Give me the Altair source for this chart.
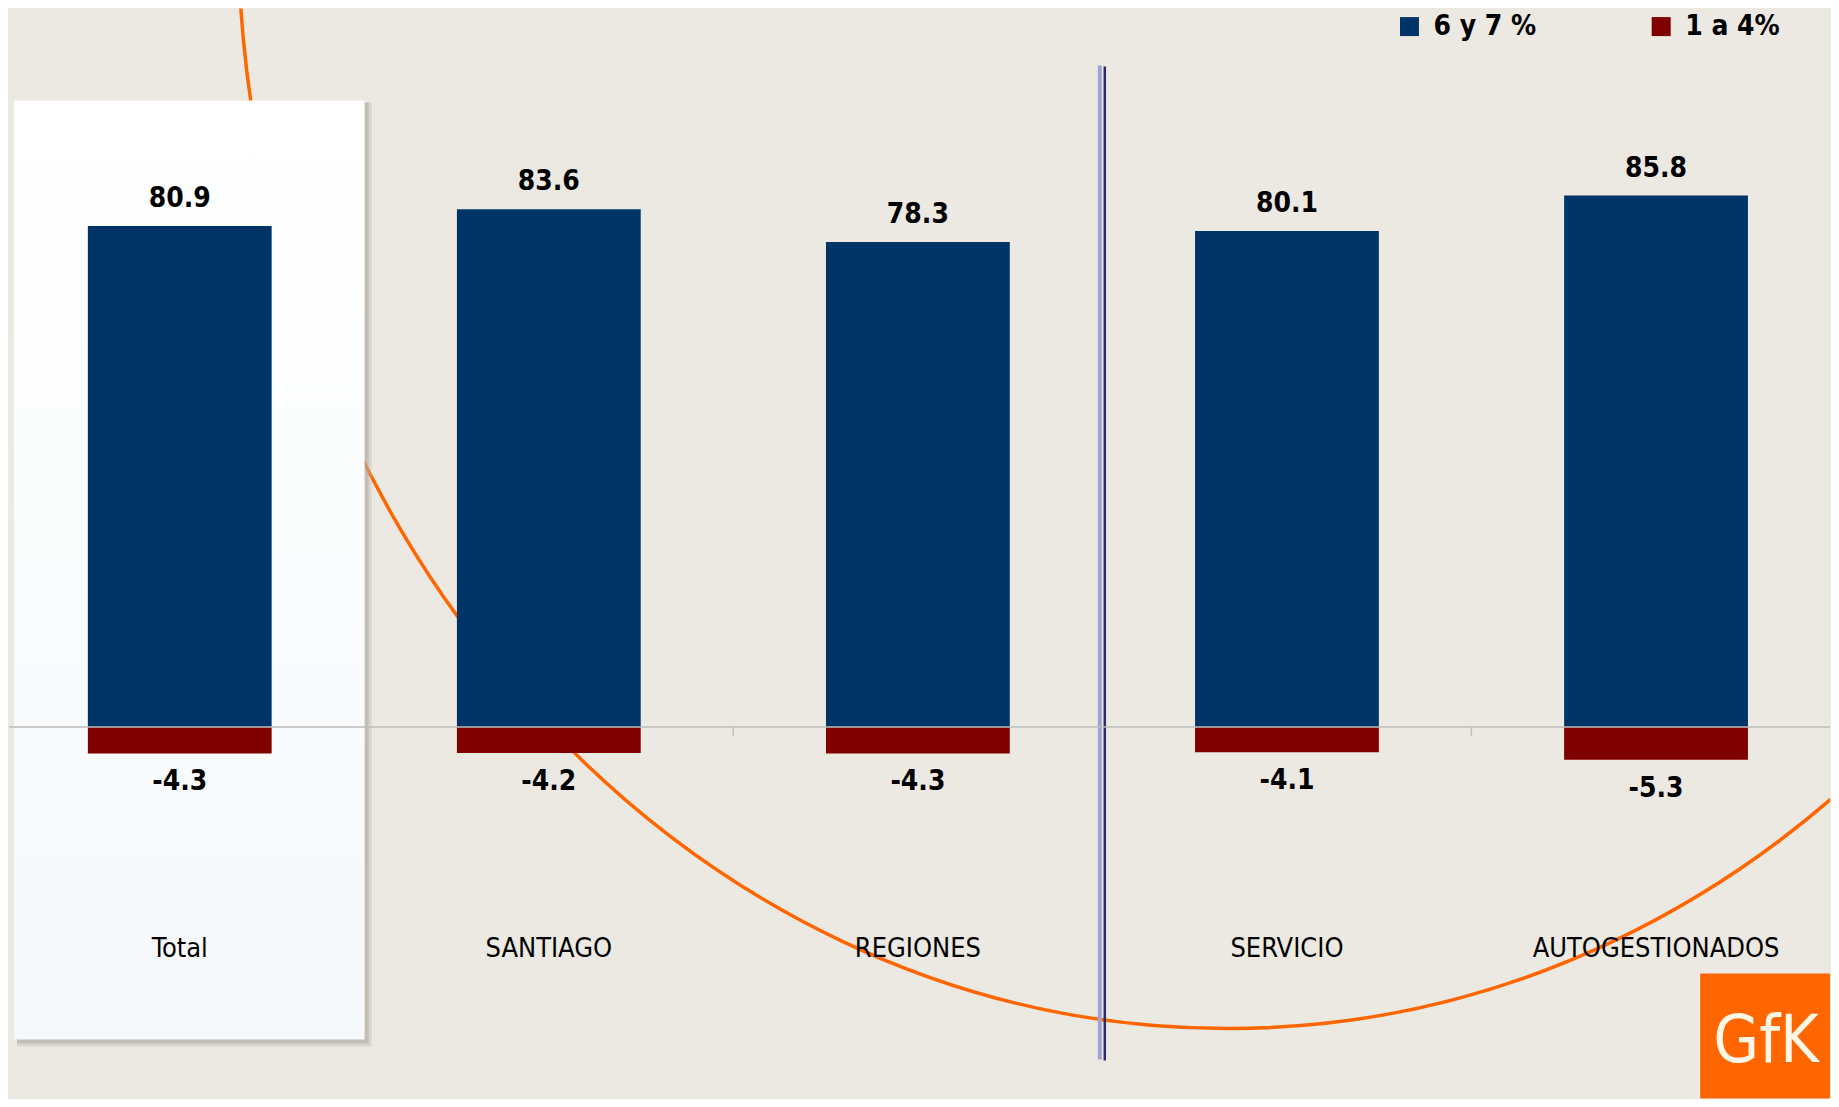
import altair as alt
import pandas as pd

# ---- data ----
categories = ["Total", "SANTIAGO", "REGIONES", "SERVICIO", "AUTOGESTIONADOS"]
top_values = [80.9, 83.6, 78.3, 80.1, 85.8]      # 6 y 7 %
low_values = [-4.3, -4.2, -4.3, -4.1, -5.3]      # 1 a 4%
series_names = ["6 y 7 %", "1 a 4%"]
series_colors = ["#003366", "#800000"]

rows = []
for c, t, l in zip(categories, top_values, low_values):
    rows.append({"cat": c, "serie": series_names[0], "v": t, "lbl": f"{t:.1f}"})
    rows.append({"cat": c, "serie": series_names[1], "v": l, "lbl": f"{l:.1f}"})
df = pd.DataFrame(rows)
cat_df = pd.DataFrame({"cat": categories})
one = pd.DataFrame({"k": [0]})

# ---- layout ----
W, H = 1823, 1091
FONT = "DejaVu Sans Condensed, DejaVu Sans"
BG = "#ECE9E2"
label_y = -35.8

xscale = alt.Scale(domain=categories, paddingInner=0.502, paddingOuter=0.218, align=0.49)
yscale = alt.Scale(domain=[-60, 116], nice=False)
X = alt.X("cat:N", scale=xscale, axis=None, sort=categories)

# decorative orange ellipse (template)
ellipse_path = "M -0.8928 0 A 0.8928 1 0 1 0 0.8928 0 A 0.8928 1 0 1 0 -0.8928 0 Z"
ellipse = alt.Chart(one).mark_point(
    shape=ellipse_path, size=4928400, filled=False, stroke="#FF6600",
    strokeWidth=3.5, opacity=1, clip=True
).encode(x=alt.value(1220), y=alt.value(-89))

# highlighted "Total" panel with shadow
shadow2 = alt.Chart(one).mark_rect(color="#B9B5AD", opacity=0.35).encode(
    x=alt.value(8), x2=alt.value(363), y=alt.value(94), y2=alt.value(1039))
shadow = alt.Chart(one).mark_rect(color="#A9A59D", opacity=0.5).encode(
    x=alt.value(8), x2=alt.value(360), y=alt.value(94), y2=alt.value(1036))
panel = alt.Chart(one).mark_rect(
    color=alt.Gradient(gradient="linear",
                       stops=[alt.GradientStop(color="#FFFFFF", offset=0),
                              alt.GradientStop(color="#F5F8FA", offset=1)],
                       x1=0, x2=0, y1=0, y2=1)
).encode(x=alt.value(5), x2=alt.value(356), y=alt.value(92), y2=alt.value(1032))

# separator lines
sep1 = alt.Chart(one).mark_rule(color="#A3A3D1", strokeWidth=4).encode(
    x=alt.value(1092), y=alt.value(57), y2=alt.value(1052))
sep2 = alt.Chart(one).mark_rule(color="#2B2B6B", strokeWidth=2.5).encode(
    x=alt.value(1097), y=alt.value(58), y2=alt.value(1053))

# small ticks on the zero line between categories
ticks = alt.Chart(pd.DataFrame({"t": [725, 1464]})).mark_rule(
    color="#BDBDBD", strokeWidth=1.5).encode(
    x=alt.X("t:Q", scale=None), y=alt.value(719), y2=alt.value(728))

bars = alt.Chart(df).mark_bar().encode(
    x=X,
    y=alt.Y("v:Q", scale=yscale, axis=None),
    color=alt.Color("serie:N",
                    scale=alt.Scale(domain=series_names, range=series_colors),
                    legend=alt.Legend(orient="none", legendX=1388, legendY=4,
                                      direction="horizontal", title=None,
                                      symbolType="square", symbolSize=361,
                                      symbolStrokeWidth=0, symbolOpacity=1,
                                      labelFont=FONT, labelFontSize=28,
                                      labelFontWeight="bold", labelColor="black",
                                      labelOffset=10, columnPadding=110,
                                      padding=0, labelLimit=0)),
)

zero = alt.Chart(pd.DataFrame({"z": [0]})).mark_rule(
    color="#BDBDBD", strokeWidth=1.5).encode(y=alt.Y("z:Q", scale=yscale))

pos_lbl = alt.Chart(df).transform_filter(alt.datum.v >= 0).mark_text(
    font=FONT, fontSize=28, fontWeight="bold", color="black",
    baseline="alphabetic", dy=-19
).encode(x=X, y=alt.Y("v:Q", scale=yscale), text="lbl:N")

neg_lbl = alt.Chart(df).transform_filter(alt.datum.v < 0).mark_text(
    font=FONT, fontSize=28, fontWeight="bold", color="black",
    baseline="alphabetic", dy=37
).encode(x=X, y=alt.Y("v:Q", scale=yscale), text="lbl:N")

cat_lbl = alt.Chart(cat_df).mark_text(
    font=FONT, fontSize=27, color="black", baseline="middle"
).encode(x=X, y=alt.datum(label_y), text="cat:N")

# GfK logo
logo_box = alt.Chart(one).mark_rect(color="#FF6600").encode(
    x=alt.value(1693), x2=alt.value(1823), y=alt.value(966), y2=alt.value(1091))
logo_txt = alt.Chart(pd.DataFrame({"t": ["GfK"]})).mark_text(
    font=FONT, fontSize=66, color="#FFF6E6", baseline="alphabetic", align="center"
).encode(x=alt.value(1759), y=alt.value(1055), text="t:N")

chart = alt.layer(
    ellipse, shadow2, shadow, panel, sep1, sep2, ticks, bars, zero, pos_lbl,
    neg_lbl, cat_lbl, logo_box, logo_txt
).properties(
    width=W, height=H, padding=0, background=BG
).configure_view(stroke=None)

chart.save("out.html", embed_options={"renderer": "svg", "actions": False})
